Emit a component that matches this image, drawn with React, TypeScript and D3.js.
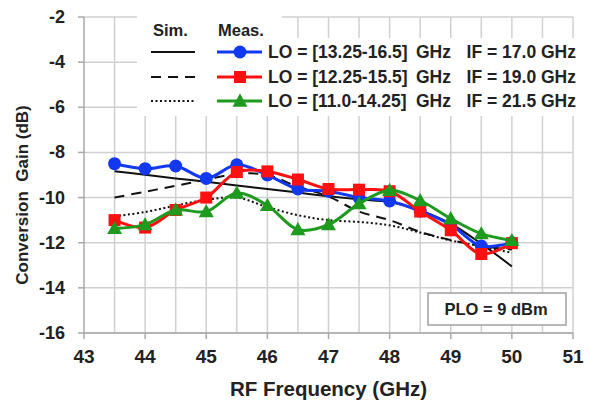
import React from "react";
import * as d3 from "d3";

const freqs = [43.5, 44, 44.5, 45, 45.5, 46, 46.5, 47, 47.5, 48, 48.5, 49, 49.5, 50];
const measBlue = [-8.5, -8.72, -8.6, -9.15, -8.55, -9.0, -9.62, -9.72, -10.0, -10.15, -10.6, -11.2, -12.15, -12.0];
const measRed = [-11.0, -11.33, -10.55, -10.0, -8.87, -8.84, -9.2, -9.62, -9.65, -9.72, -10.62, -11.45, -12.5, -12.02];
const measGreen = [-11.37, -11.2, -10.55, -10.62, -9.8, -10.35, -11.42, -11.2, -10.27, -9.68, -10.13, -10.93, -11.6, -11.9];
const simSolid = [-8.83, -8.99, -9.15, -9.3, -9.46, -9.62, -9.78, -9.94, -10.08, -10.2, -10.57, -11.16, -12.05, -13.05];
const simDashed = [-10.0, -9.74, -9.48, -9.21, -8.95, -9.0, -9.52, -9.95, -10.62, -11.0, -11.52, -11.88, -12.15, -12.3];
const simDotted = [-10.83, -10.64, -10.35, -10.1, -10.0, -10.42, -10.78, -11.0, -11.08, -11.23, -11.55, -11.9, -12.16, -12.45];

const xTicks = [43, 44, 45, 46, 47, 48, 49, 50, 51];
const xGrid = d3.range(43.5, 51.01, 0.5);
const yTicks = [-2, -4, -6, -8, -10, -12, -14, -16];

const legendRows = [
  { lo: "LO = [13.25-16.5]", iff: "IF = 17.0 GHz", color: "#1238f0", marker: "circle", dash: "" },
  { lo: "LO = [12.25-15.5]", iff: "IF = 19.0 GHz", color: "#ff1010", marker: "square", dash: "10,7" },
  { lo: "LO = [11.0-14.25]", iff: "IF = 21.5 GHz", color: "#1e9a1e", marker: "triangle", dash: "2,2.5" },
];

const FONT = "'Liberation Sans', Arial, sans-serif";

function Marker({ type, x, y, color }: { type: string; x: number; y: number; color: string }) {
  if (type === "circle") return <circle cx={x} cy={y} r={6.5} fill={color} />;
  if (type === "square") return <rect x={x - 6} y={y - 6} width={12} height={12} fill={color} />;
  const s = 7.5;
  return <path d={`M${x},${y - s}L${x + s},${y + s * 0.75}L${x - s},${y + s * 0.75}Z`} fill={color} />;
}

export default function App() {
  const x = d3.scaleLinear().domain([43, 51]).range([84, 573]);
  const y = d3.scaleLinear().domain([-16, -2]).range([333, 17]);
  const line = d3
    .line<number>()
    .x((_, i) => x(freqs[i]))
    .y((d) => y(d))
    .curve(d3.curveCatmullRom.alpha(0.5));

  const meas = [
    { vals: measBlue, ...legendRows[0] },
    { vals: measRed, ...legendRows[1] },
    { vals: measGreen, ...legendRows[2] },
  ];
  const sims = [
    { vals: simSolid, dash: "" },
    { vals: simDashed, dash: "10,7" },
    { vals: simDotted, dash: "2,2.5" },
  ];
  const rowY = [52, 77, 101];

  return (
    <svg width={590} height={401} style={{ position: "absolute", left: 0, top: 0, background: "#fff" }} fontFamily={FONT}>
      {/* grid */}
      {xGrid.map((v) => (
        <line key={"gx" + v} x1={x(v)} x2={x(v)} y1={y(-2)} y2={y(-16)} stroke="#d0d0d0" strokeWidth={1.5} />
      ))}
      {yTicks.map((v) => (
        <line key={"gy" + v} x1={x(43)} x2={x(51)} y1={y(v)} y2={y(v)} stroke="#d0d0d0" strokeWidth={1.5} />
      ))}
      {/* axes */}
      <line x1={x(43)} x2={x(43)} y1={y(-2)} y2={y(-16)} stroke="#a8a8a8" strokeWidth={1.5} />
      <line x1={x(43)} x2={x(51)} y1={y(-16)} y2={y(-16)} stroke="#a8a8a8" strokeWidth={1.5} />
      {yTicks.map((v) => (
        <g key={"yt" + v}>
          <line x1={x(43) - 6} x2={x(43)} y1={y(v)} y2={y(v)} stroke="#a8a8a8" strokeWidth={1.5} />
          <text x={65} y={y(v)} textAnchor="end" dominantBaseline="central" fontSize={18} fontWeight="bold" fill="#222">
            {v}
          </text>
        </g>
      ))}
      {xTicks.map((v) => (
        <g key={"xt" + v}>
          <line x1={x(v)} x2={x(v)} y1={y(-16)} y2={y(-16) + 6} stroke="#a8a8a8" strokeWidth={1.5} />
          <text x={x(v)} y={356} textAnchor="middle" dominantBaseline="central" fontSize={19} fontWeight="bold" fill="#222">
            {v}
          </text>
        </g>
      ))}
      <text x={x(47)} y={388} textAnchor="middle" dominantBaseline="central" fontSize={20.5} fontWeight="bold" fill="#222">
        RF Frequency (GHz)
      </text>
      <text
        transform={`translate(22,195) rotate(-90)`}
        textAnchor="middle"
        dominantBaseline="central"
        fontSize={17}
        fontWeight="bold"
        fill="#222"
        style={{ whiteSpace: "pre" }}
      >
        {"Conversion  Gain (dB)"}
      </text>

      {/* legend backgrounds */}
      <rect x={137} y={10} width={145} height={30} fill="#fff" />
      <rect x={137} y={38} width={453} height={78} fill="#fff" />

      {/* sim lines */}
      {sims.map((s, i) => (
        <path key={"s" + i} d={line(s.vals) || ""} fill="none" stroke="#111" strokeWidth={2} strokeDasharray={s.dash} />
      ))}
      {/* measured */}
      {meas.map((m, i) => (
        <g key={"m" + i}>
          <path d={line(m.vals) || ""} fill="none" stroke={m.color} strokeWidth={3} />
          {m.vals.map((v, j) => (
            <Marker key={j} type={m.marker} x={x(freqs[j])} y={y(v)} color={m.color} />
          ))}
        </g>
      ))}

      {/* legend */}
      <text x={153} y={30} fontSize={16.5} fontWeight="bold" fill="#222" dominantBaseline="central">Sim.</text>
      <text x={218} y={30} fontSize={16.5} fontWeight="bold" fill="#222" dominantBaseline="central">Meas.</text>
      {legendRows.map((r, i) => (
        <g key={"l" + i}>
          <line x1={151} x2={195} y1={rowY[i]} y2={rowY[i]} stroke="#111" strokeWidth={2} strokeDasharray={r.dash} />
          <line x1={217} x2={262} y1={rowY[i]} y2={rowY[i]} stroke={r.color} strokeWidth={3} />
          <Marker type={r.marker} x={240} y={rowY[i]} color={r.color} />
          <text x={268} y={rowY[i]} fontSize={17.5} fontWeight="bold" fill="#222" dominantBaseline="central">{r.lo}</text>
          <text x={451} y={rowY[i]} textAnchor="end" fontSize={17.5} fontWeight="bold" fill="#222" dominantBaseline="central">GHz</text>
          <text x={576} y={rowY[i]} textAnchor="end" fontSize={17.5} fontWeight="bold" fill="#222" dominantBaseline="central">{r.iff}</text>
        </g>
      ))}

      {/* PLO box */}
      <rect x={428} y={293} width={138} height={32} fill="#fff" stroke="#a0a0a0" strokeWidth={1.5} />
      <text x={496} y={309} textAnchor="middle" dominantBaseline="central" fontSize={16.5} fontWeight="bold" fill="#222">
        PLO = 9 dBm
      </text>
    </svg>
  );
}
